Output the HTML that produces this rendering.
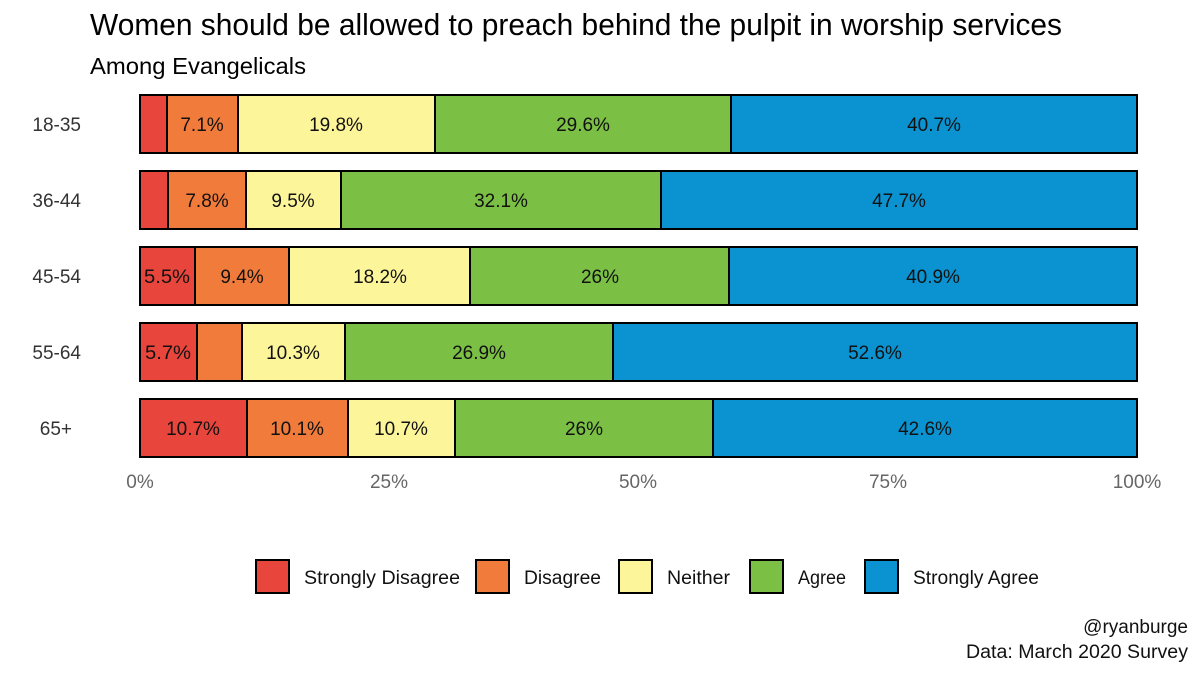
<!DOCTYPE html>
<html><head><meta charset="utf-8"><style>
body{margin:0;background:#fff;}
svg text{font-family:"Liberation Sans Narrow","Liberation Sans",sans-serif;}
</style></head><body>
<svg width="1200" height="675" viewBox="0 0 1200 675" xmlns="http://www.w3.org/2000/svg">
<rect width="1200" height="675" fill="#fff"/>
<text x="90" y="35" font-size="31" fill="#000" textLength="972" lengthAdjust="spacingAndGlyphs">Women should be allowed to preach behind the pulpit in worship services</text>
<text x="90" y="74" font-size="23" fill="#000" textLength="216" lengthAdjust="spacingAndGlyphs">Among Evangelicals</text>
<g stroke="#000" stroke-width="2">
<rect x="140" y="95" width="27" height="58" fill="#E8453C"/>
<rect x="167" y="95" width="71" height="58" fill="#F07B3A"/>
<rect x="238" y="95" width="197" height="58" fill="#FDF59A"/>
<rect x="435" y="95" width="296" height="58" fill="#7BBF45"/>
<rect x="731" y="95" width="406" height="58" fill="#0A93D0"/>
<rect x="140" y="171" width="28" height="58" fill="#E8453C"/>
<rect x="168" y="171" width="78" height="58" fill="#F07B3A"/>
<rect x="246" y="171" width="95" height="58" fill="#FDF59A"/>
<rect x="341" y="171" width="320" height="58" fill="#7BBF45"/>
<rect x="661" y="171" width="476" height="58" fill="#0A93D0"/>
<rect x="140" y="247" width="55" height="58" fill="#E8453C"/>
<rect x="195" y="247" width="94" height="58" fill="#F07B3A"/>
<rect x="289" y="247" width="181" height="58" fill="#FDF59A"/>
<rect x="470" y="247" width="259" height="58" fill="#7BBF45"/>
<rect x="729" y="247" width="408" height="58" fill="#0A93D0"/>
<rect x="140" y="323" width="57" height="58" fill="#E8453C"/>
<rect x="197" y="323" width="45" height="58" fill="#F07B3A"/>
<rect x="242" y="323" width="103" height="58" fill="#FDF59A"/>
<rect x="345" y="323" width="268" height="58" fill="#7BBF45"/>
<rect x="613" y="323" width="524" height="58" fill="#0A93D0"/>
<rect x="140" y="399" width="107" height="58" fill="#E8453C"/>
<rect x="247" y="399" width="101" height="58" fill="#F07B3A"/>
<rect x="348" y="399" width="107" height="58" fill="#FDF59A"/>
<rect x="455" y="399" width="258" height="58" fill="#7BBF45"/>
<rect x="713" y="399" width="424" height="58" fill="#0A93D0"/>
</g>
<g font-size="19" fill="#111" text-anchor="middle">
<text x="202" y="131">7.1%</text><text x="336" y="131">19.8%</text><text x="583" y="131">29.6%</text><text x="934" y="131">40.7%</text>
<text x="207" y="207">7.8%</text><text x="293" y="207">9.5%</text><text x="501" y="207">32.1%</text><text x="899" y="207">47.7%</text>
<text x="167" y="283" textLength="46" lengthAdjust="spacingAndGlyphs">5.5%</text><text x="242" y="283">9.4%</text><text x="380" y="283">18.2%</text><text x="600" y="283">26%</text><text x="933" y="283">40.9%</text>
<text x="168" y="359" textLength="46" lengthAdjust="spacingAndGlyphs">5.7%</text><text x="293" y="359">10.3%</text><text x="479" y="359">26.9%</text><text x="875" y="359">52.6%</text>
<text x="193" y="435">10.7%</text><text x="297" y="435">10.1%</text><text x="401" y="435">10.7%</text><text x="584" y="435">26%</text><text x="925" y="435">42.6%</text>
</g>
<g font-size="19" fill="#333" text-anchor="end">
<text x="81" y="131">18-35</text><text x="81" y="207">36-44</text><text x="81" y="283">45-54</text><text x="81" y="359">55-64</text><text x="72" y="435">65+</text>
</g>
<g font-size="19" fill="#666" text-anchor="middle">
<text x="140" y="488">0%</text><text x="389" y="488">25%</text><text x="638" y="488">50%</text><text x="888" y="488">75%</text><text x="1137" y="488">100%</text>
</g>
<g stroke="#000" stroke-width="2">
<rect x="256" y="560" width="33" height="33" fill="#E8453C"/>
<rect x="476" y="560" width="33" height="33" fill="#F07B3A"/>
<rect x="619" y="560" width="33" height="33" fill="#FDF59A"/>
<rect x="750" y="560" width="33" height="33" fill="#7BBF45"/>
<rect x="865" y="560" width="33" height="33" fill="#0A93D0"/>
</g>
<g font-size="19" fill="#111">
<text x="304" y="584" textLength="156" lengthAdjust="spacingAndGlyphs">Strongly Disagree</text>
<text x="524" y="584" textLength="77" lengthAdjust="spacingAndGlyphs">Disagree</text>
<text x="667" y="584" textLength="63" lengthAdjust="spacingAndGlyphs">Neither</text>
<text x="798" y="584" textLength="48" lengthAdjust="spacingAndGlyphs">Agree</text>
<text x="913" y="584" textLength="126" lengthAdjust="spacingAndGlyphs">Strongly Agree</text>
</g>
<g font-size="19" fill="#111" text-anchor="end">
<text x="1188" y="633">@ryanburge</text>
<text x="1188" y="658" textLength="222" lengthAdjust="spacingAndGlyphs">Data: March 2020 Survey</text>
</g>
</svg>
</body></html>
